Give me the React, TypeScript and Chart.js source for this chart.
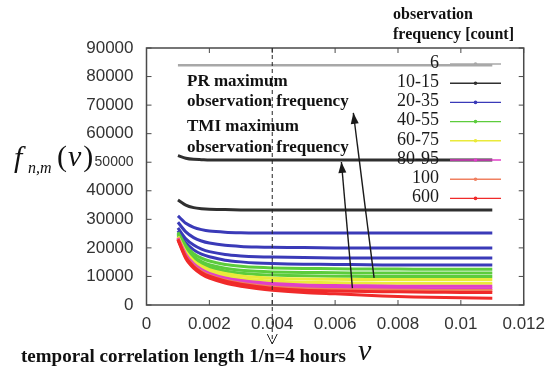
import React, { useEffect, useRef } from "react";
import { Chart, registerables } from "chart.js";

Chart.register(...registerables);

// ---- data ----
const xValues = [0.001, 0.00125, 0.0015, 0.00175, 0.002, 0.0025, 0.003, 0.0035, 0.004, 0.005, 0.006, 0.007, 0.008, 0.009, 0.01, 0.011];

const legendLabels = ["6", "10-15", "20-35", "40-55", "60-75", "80-95", "100", "600"];
const legendColors = ["#a8a8a8", "#303030", "#3a3ab8", "#5ccc3c", "#eaea3a", "#e040c8", "#f08060", "#f02a2a"];

const count6 = [84000, 84000, 84000, 84000, 84000, 84000, 84000, 84000, 84000, 84000, 84000, 84000, 84000, 84000, 84000, 84000];
const count10a = [52300, 51400, 51000, 50900, 50800, 50800, 50800, 50800, 50800, 50800, 50800, 50800, 50800, 50800, 50800, 50800];
const count10b = [36800, 35000, 34100, 33700, 33500, 33400, 33300, 33300, 33300, 33300, 33300, 33300, 33300, 33300, 33300, 33300];
const count20a = [31200, 28600, 27200, 26400, 25900, 25500, 25300, 25200, 25200, 25200, 25200, 25200, 25200, 25200, 25200, 25200];
const count20b = [29000, 25600, 23600, 22400, 21700, 20900, 20500, 20300, 20200, 20100, 20000, 20000, 20000, 20000, 20000, 20000];
const count20c = [27000, 23200, 21000, 19600, 18700, 17700, 17200, 16900, 16800, 16600, 16500, 16500, 16500, 16500, 16500, 16500];
const count20d = [26000, 21800, 19300, 17800, 16900, 15700, 15100, 14700, 14500, 14300, 14200, 14100, 14000, 14000, 14000, 14000];
const count40a = [25500, 20800, 18000, 16400, 15400, 14200, 13600, 13200, 13000, 12800, 12700, 12600, 12600, 12500, 12500, 12500];
const count40b = [25000, 20000, 17000, 15200, 14100, 12900, 12200, 11800, 11600, 11400, 11300, 11200, 11200, 11200, 11200, 11200];
const count40c = [24500, 19200, 16200, 14400, 13200, 11900, 11100, 10700, 10500, 10200, 10100, 10000, 10000, 10000, 10000, 10000];
const count60a = [24000, 18600, 15500, 13600, 12400, 11000, 10200, 9700, 9400, 9100, 9000, 8900, 8900, 8900, 8900, 8900];
const count60b = [23700, 18100, 14900, 13000, 11700, 10200, 9300, 8800, 8400, 8000, 7800, 7700, 7600, 7600, 7600, 7600];
const count80a = [23500, 17700, 14400, 12400, 11100, 9500, 8600, 8000, 7500, 7000, 6800, 6700, 6600, 6600, 6600, 6600];
const count80b = [23300, 17300, 14000, 12000, 10700, 9000, 8000, 7300, 6800, 6200, 6000, 5900, 5800, 5700, 5700, 5700];
const count100 = [23200, 17000, 13700, 11700, 10400, 8700, 7600, 6900, 6300, 5700, 5400, 5300, 5200, 5100, 5100, 5100];
const count600a = [23000, 16800, 13500, 11400, 10100, 8400, 7300, 6500, 5900, 5200, 4900, 4700, 4600, 4500, 4400, 4400];
const count600b = [22800, 16300, 12900, 10800, 9400, 7700, 6600, 5800, 5200, 4400, 3900, 3400, 3000, 2700, 2500, 2400];

const seriesList = [
  { group: 0, values: count6 },
  { group: 1, values: count10a },
  { group: 1, values: count10b },
  { group: 2, values: count20a },
  { group: 2, values: count20b },
  { group: 2, values: count20c },
  { group: 2, values: count20d },
  { group: 3, values: count40a },
  { group: 3, values: count40b },
  { group: 3, values: count40c },
  { group: 4, values: count60a },
  { group: 4, values: count60b },
  { group: 5, values: count80a },
  { group: 5, values: count80b },
  { group: 6, values: count100 },
  { group: 7, values: count600a },
  { group: 7, values: count600b },
];

const xTickStep = 0.002;
const yTickStep = 10000;

// annotation arrows in data coordinates [x0, y0, x1, y1] (tail -> head)
const prArrow = [0.00724, 9500, 0.00658, 67300];
const tmiArrow = [0.00655, 5900, 0.0062, 50100];
const markerX = 0.004;

const SERIF = "'Liberation Serif', 'Times New Roman', serif";
const SANS = "'Liberation Sans', Arial, sans-serif";

function drawArrow(ctx: CanvasRenderingContext2D, x0: number, y0: number, x1: number, y1: number) {
  ctx.save();
  ctx.strokeStyle = "#1a1a1a";
  ctx.fillStyle = "#1a1a1a";
  ctx.lineWidth = 1.4;
  ctx.beginPath();
  ctx.moveTo(x0, y0);
  ctx.lineTo(x1, y1);
  ctx.stroke();
  const ang = Math.atan2(y1 - y0, x1 - x0);
  const len = 11;
  const w = 4;
  ctx.beginPath();
  ctx.moveTo(x1, y1);
  ctx.lineTo(x1 - len * Math.cos(ang) + w * Math.sin(ang), y1 - len * Math.sin(ang) - w * Math.cos(ang));
  ctx.lineTo(x1 - len * Math.cos(ang) - w * Math.sin(ang), y1 - len * Math.sin(ang) + w * Math.cos(ang));
  ctx.closePath();
  ctx.fill();
  ctx.restore();
}

const decorPlugin = {
  id: "decor",
  afterDatasetsDraw(chart: any) {
    const ctx: CanvasRenderingContext2D = chart.ctx;
    const { left, right, top, bottom } = chart.chartArea;
    const xs = chart.scales.x;
    const ys = chart.scales.y;
    ctx.save();
    // frame
    ctx.strokeStyle = "#4a4a4a";
    ctx.lineWidth = 1.5;
    ctx.strokeRect(left, top, right - left, bottom - top);
    // inward ticks
    ctx.lineWidth = 1;
    ctx.beginPath();
    xs.ticks.forEach((t: any) => {
      const px = xs.getPixelForValue(t.value);
      ctx.moveTo(px, bottom);
      ctx.lineTo(px, bottom - 5);
      ctx.moveTo(px, top);
      ctx.lineTo(px, top + 5);
    });
    ys.ticks.forEach((t: any) => {
      const py = ys.getPixelForValue(t.value);
      ctx.moveTo(left, py);
      ctx.lineTo(left + 5, py);
      ctx.moveTo(right, py);
      ctx.lineTo(right - 5, py);
    });
    ctx.stroke();

    // dashed vertical marker at 1/n = 4 hours
    const mx = xs.getPixelForValue(markerX);
    ctx.strokeStyle = "#222";
    ctx.lineWidth = 1;
    ctx.setLineDash([4, 3]);
    ctx.beginPath();
    ctx.moveTo(mx, top);
    ctx.lineTo(mx, 344);
    ctx.stroke();
    ctx.setLineDash([]);
    ctx.beginPath();
    ctx.moveTo(mx - 5, 334);
    ctx.lineTo(mx, 344);
    ctx.lineTo(mx + 5, 334);
    ctx.stroke();

    // arrows
    drawArrow(ctx, xs.getPixelForValue(prArrow[0]), ys.getPixelForValue(prArrow[1]), xs.getPixelForValue(prArrow[2]), ys.getPixelForValue(prArrow[3]));
    drawArrow(ctx, xs.getPixelForValue(tmiArrow[0]), ys.getPixelForValue(tmiArrow[1]), xs.getPixelForValue(tmiArrow[2]), ys.getPixelForValue(tmiArrow[3]));

    // annotation texts
    ctx.fillStyle = "#111";
    ctx.font = `bold 17px ${SERIF}`;
    ctx.textBaseline = "middle";
    ctx.textAlign = "left";
    ctx.fillText("PR maximum", 187, 82);
    ctx.fillText("observation frequency", 187, 102);
    ctx.fillText("TMI maximum", 187, 127);
    ctx.fillText("observation frequency", 187, 148);

    // legend
    ctx.font = `18px ${SERIF}`;
    ctx.textAlign = "right";
    legendLabels.forEach((lab, i) => {
      const y = 63 + i * 19.2;
      ctx.fillStyle = "#1a1a1a";
      ctx.fillText(lab, 439, y);
      ctx.strokeStyle = legendColors[i];
      ctx.lineWidth = 1.4;
      ctx.beginPath();
      ctx.moveTo(450, y + 1);
      ctx.lineTo(501, y + 1);
      ctx.stroke();
      ctx.fillStyle = legendColors[i];
      ctx.beginPath();
      ctx.arc(475.5, y + 1, 1.8, 0, Math.PI * 2);
      ctx.fill();
    });

    // legend title
    ctx.fillStyle = "#111";
    ctx.textAlign = "left";
    ctx.font = `bold 16px ${SERIF}`;
    ctx.fillText("observation", 393, 15);
    ctx.fillText("frequency [count]", 393, 35);

    // y axis title f_{n,m}(ν)
    ctx.textBaseline = "alphabetic";
    ctx.font = `italic 30px ${SERIF}`;
    ctx.fillText("f", 14, 167);
    ctx.font = `italic 16px ${SERIF}`;
    ctx.fillText("n,m", 28, 173);
    ctx.font = `30px ${SERIF}`;
    ctx.fillText("(", 57, 166);
    const w = ctx.measureText("(").width;
    ctx.font = `italic 30px ${SERIF}`;
    ctx.fillText("ν", 57 + w + 1, 166);
    const w2 = ctx.measureText("ν").width;
    ctx.font = `30px ${SERIF}`;
    ctx.fillText(")", 57 + w + w2 + 3, 166);

    // x axis title & note
    ctx.font = `bold 19px ${SERIF}`;
    ctx.fillText("temporal correlation length 1/n=4 hours", 21, 362);
    ctx.font = `italic 30px ${SERIF}`;
    ctx.fillText("ν", 358, 360);
    ctx.restore();
  },
};

export default function App() {
  const canvasRef = useRef<HTMLCanvasElement | null>(null);

  useEffect(() => {
    if (!canvasRef.current) return;
    const datasets = seriesList.map((s, i) => ({
      label: legendLabels[s.group],
      data: xValues.map((x, j) => ({ x, y: s.values[j] })),
      borderColor: legendColors[s.group],
      backgroundColor: legendColors[s.group],
      borderWidth: s.group === 0 ? 2.5 : 3,
      pointRadius: 0,
      tension: 0.25,
      fill: false,
      order: -i,
    }));
    const chart = new Chart(canvasRef.current, {
      type: "line",
      data: { datasets },
      options: {
        animation: false,
        responsive: false,
        maintainAspectRatio: false,
        layout: { padding: { top: 48, right: 29, left: 0, bottom: 0 } },
        plugins: { legend: { display: false }, tooltip: { enabled: false } },
        scales: {
          x: {
            type: "linear",
            min: 0,
            max: 0.012,
            grid: { display: false, drawTicks: false },
            border: { display: false },
            ticks: {
              stepSize: xTickStep,
              padding: 9,
              color: "#333",
              font: { family: SANS, size: 17 },
              maxRotation: 0,
              callback: (v: any) => String(Number(Number(v).toFixed(3))),
            },
            afterFit: (s: any) => {
              s.height = 68;
            },
          },
          y: {
            type: "linear",
            min: 0,
            max: 90000,
            grid: { display: false, drawTicks: false },
            border: { display: false },
            ticks: {
              stepSize: yTickStep,
              padding: 13,
              color: "#333",
              font: (c: any) => ({ family: SANS, size: c.tick && c.tick.value === 50000 ? 14 : 17 }),
              callback: (v: any) => String(v),
            },
            afterFit: (s: any) => {
              s.width = 146.5;
            },
          },
        },
      },
      plugins: [decorPlugin],
    });
    return () => chart.destroy();
  }, []);

  return (
    <div style={{ position: "fixed", left: 0, top: 0, width: 554, height: 373, background: "#fff" }}>
      <canvas ref={canvasRef} width={554} height={373} style={{ display: "block", width: 554, height: 373 }} />
    </div>
  );
}
